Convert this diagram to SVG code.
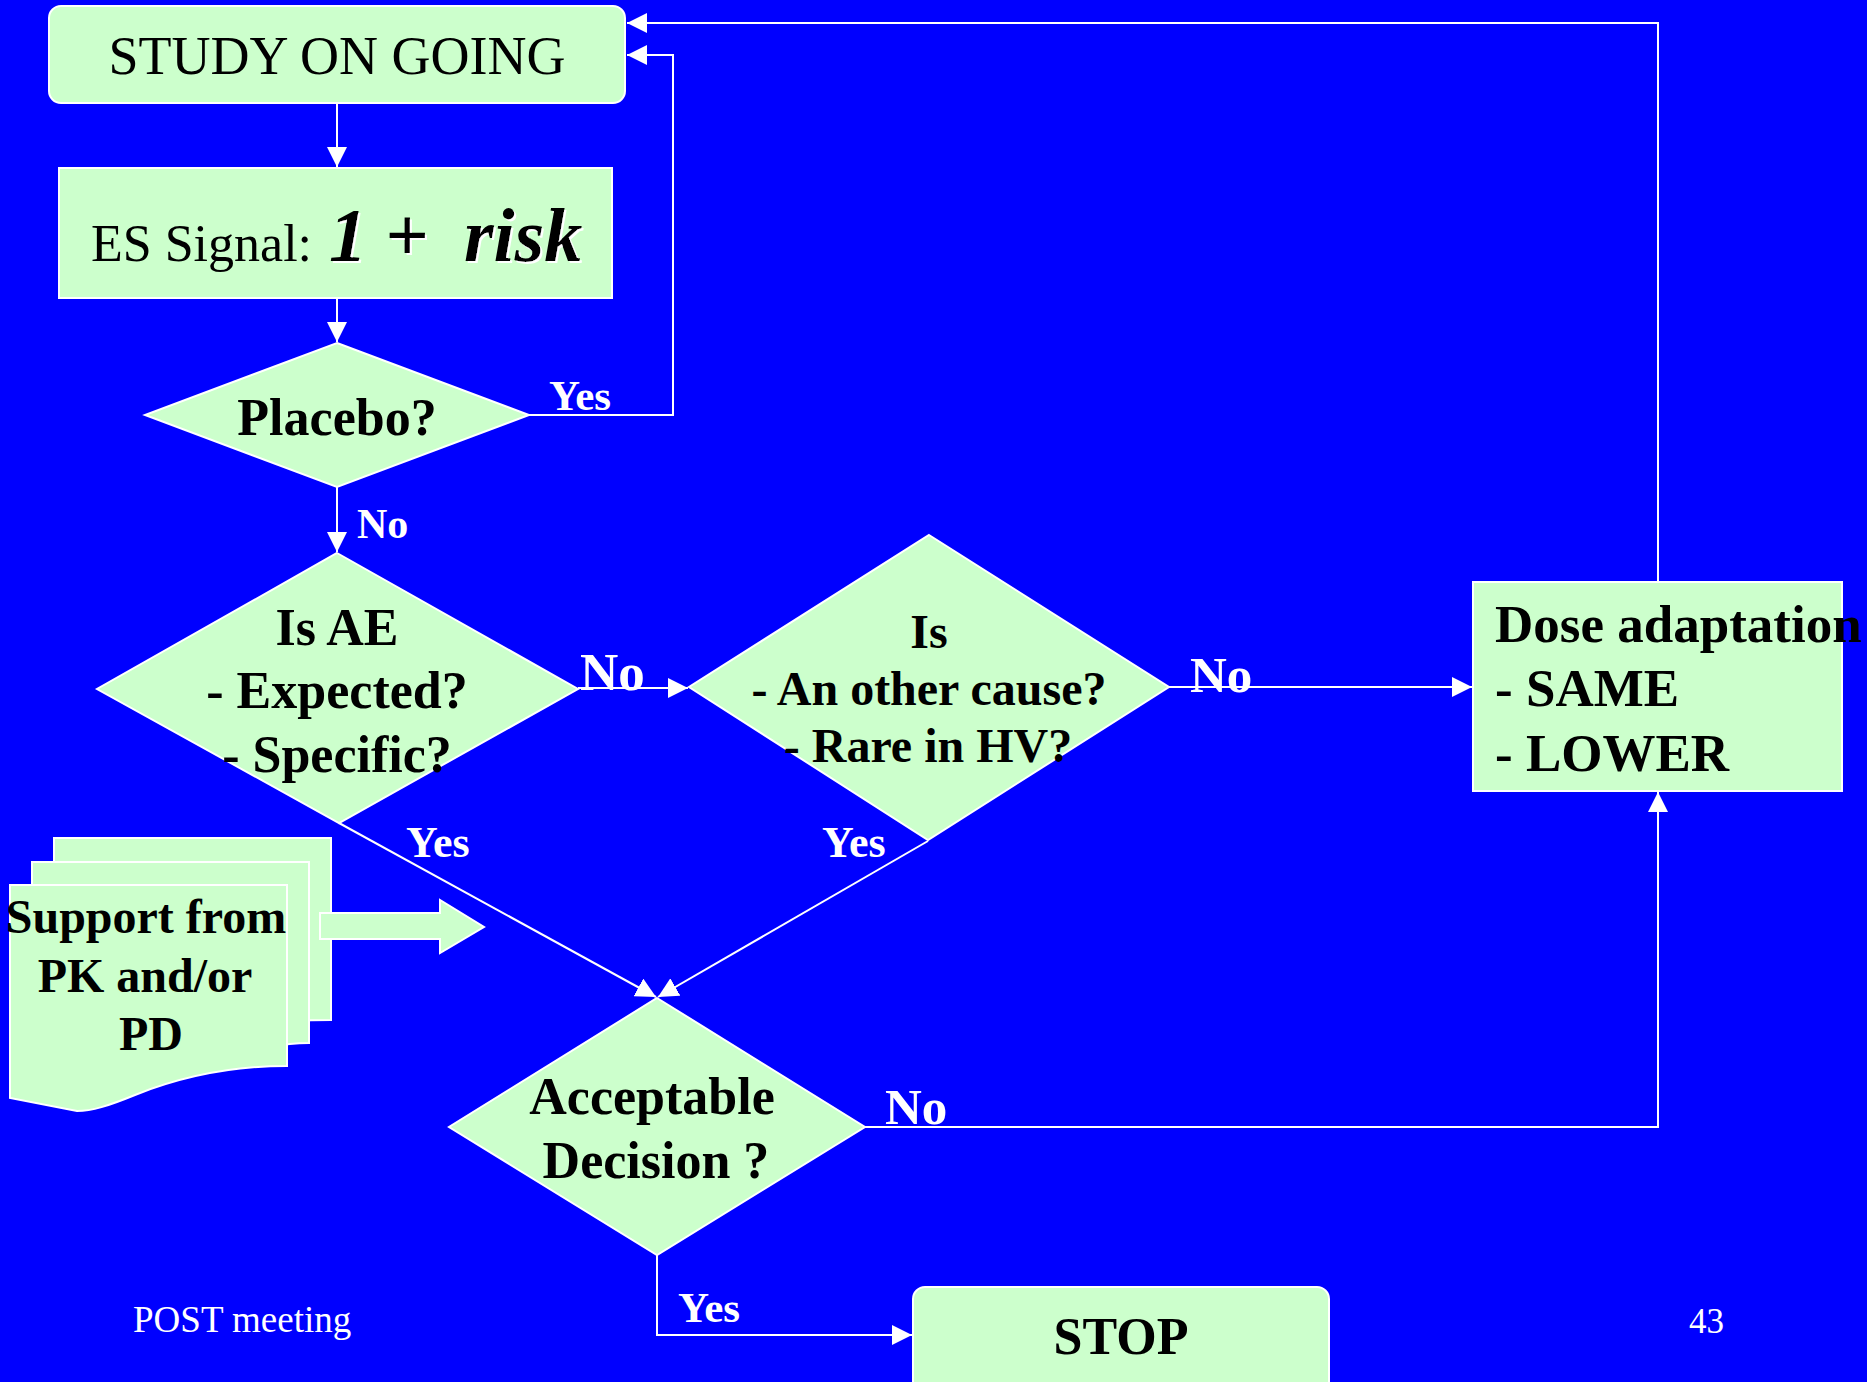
<svg xmlns="http://www.w3.org/2000/svg" width="1867" height="1382" viewBox="0 0 1867 1382">
<defs>
<style>
.node{fill:#CCFFCC;stroke:#FFFFFF;stroke-width:2}
.conn{fill:none;stroke:#FFFFFF;stroke-width:2}
.t{font-family:"Liberation Serif","Times New Roman",serif;fill:#000}
.b{font-weight:bold}
.lbl{font-family:"Liberation Serif","Times New Roman",serif;font-weight:bold;fill:#FFFFFF}
.foot{font-family:"Liberation Serif","Times New Roman",serif;fill:#FFFFFF}
</style>
<marker id="arr" markerWidth="20" markerHeight="20" refX="20" refY="10" orient="auto" markerUnits="userSpaceOnUse">
<path d="M0,0 L20,10 L0,20 Z" fill="#FFFFFF"/>
</marker>
<filter id="wsh" x="-10%" y="-10%" width="130%" height="130%">
<feDropShadow dx="2" dy="2" stdDeviation="0" flood-color="#FFFFFF"/>
</filter>
</defs>
<rect x="0" y="0" width="1867" height="1382" fill="#0000FF"/>

<g id="connectors">
<path class="conn" d="M337,103 V167" marker-end="url(#arr)"/>
<path class="conn" d="M337,298 V342" marker-end="url(#arr)"/>
<path class="conn" d="M529,415 H673 V55 H627" marker-end="url(#arr)"/>
<path class="conn" d="M337,487 V552" marker-end="url(#arr)"/>
<path class="conn" d="M578,688 H688" marker-end="url(#arr)"/>
<path class="conn" d="M1169,687 H1472" marker-end="url(#arr)"/>
<path class="conn" d="M339,823 L656,997" marker-end="url(#arr)"/>
<path class="conn" d="M928,841 L658,997" marker-end="url(#arr)"/>
<path class="conn" d="M865,1127 H1658 V792" marker-end="url(#arr)"/>
<path class="conn" d="M657,1255 V1335 H912" marker-end="url(#arr)"/>
<path class="conn" d="M1658,582 V23 H627" marker-end="url(#arr)"/>
<text class="lbl" x="549" y="410" font-size="43">Yes</text>
<text class="lbl" x="357" y="538" font-size="42">No</text>
<text class="lbl" x="580" y="690" font-size="53">No</text>
<text class="lbl" x="1190" y="692" font-size="51">No</text>
<text class="lbl" x="406" y="857" font-size="44">Yes</text>
<text class="lbl" x="822" y="857" font-size="44">Yes</text>
<text class="lbl" x="885" y="1124" font-size="51">No</text>
<text class="lbl" x="678" y="1322" font-size="43">Yes</text>
</g>

<g id="study">
<rect class="node" x="49" y="6" width="576" height="97" rx="12"/>
<text class="t" x="337" y="74" font-size="54" text-anchor="middle">STUDY ON GOING</text>
</g>

<g id="es-signal">
<rect class="node" x="59" y="168" width="553" height="130"/>
<text class="t" y="261"><tspan x="91" font-size="52">ES Signal: </tspan><tspan x="329" class="b" font-style="italic" font-size="76" filter="url(#wsh)">1</tspan><tspan x="385" class="b" font-size="76" font-style="italic" filter="url(#wsh)">+</tspan><tspan x="464" class="b" font-style="italic" font-size="76" filter="url(#wsh)">risk</tspan></text>
</g>

<g id="placebo">
<polygon class="node" points="337,343 529,415 337,487 145,415"/>
<text class="t b" x="337" y="435" font-size="52" text-anchor="middle">Placebo?</text>
</g>

<g id="is-ae">
<polygon class="node" points="337,553 578,689 339,823 97,689"/>
<text class="t b" font-size="52" text-anchor="middle"><tspan x="337" y="645">Is AE</tspan><tspan x="337" y="708">- Expected?</tspan><tspan x="337" y="772">- Specific?</tspan></text>
</g>

<g id="other-cause">
<polygon class="node" points="929,535 1169,687 928,840 689,687"/>
<text class="t b" font-size="48" text-anchor="middle"><tspan x="929" y="648">Is</tspan><tspan x="929" y="705">- An other cause?</tspan><tspan x="928" y="762">- Rare in HV?</tspan></text>
</g>

<g id="dose">
<rect class="node" x="1473" y="582" width="369" height="209"/>
<text class="t b" font-size="53"><tspan x="1495" y="642">Dose adaptation</tspan><tspan x="1495" y="706">- SAME</tspan><tspan x="1495" y="771">- LOWER</tspan></text>
</g>

<g id="support">
<path class="node" d="M54,838 H331 V1020 C300,1020 280,1022 270,1024 L54,1024 Z"/>
<path class="node" d="M32,862 H309 V1043 C290,1043 280,1045 270,1047 L32,1047 Z"/>
<path class="node" d="M10,885 H287 V1066 C225,1066 175,1079 135,1095 C108,1106 92,1111 77,1111 L10,1098 Z"/>
<text class="t b" font-size="48" text-anchor="middle"><tspan x="146" y="933">Support from</tspan><tspan x="145" y="992">PK and/or</tspan><tspan x="151" y="1050">PD</tspan></text>
<path class="node" d="M320,913 H440 V900 L484,927 L440,953 V939 H320 Z"/>
</g>

<g id="acceptable">
<polygon class="node" points="657,998 865,1127 657,1255 449,1127"/>
<text class="t b" font-size="52" text-anchor="middle"><tspan x="652" y="1114">Acceptable</tspan><tspan x="656" y="1178">Decision ?</tspan></text>
</g>

<g id="stop">
<rect class="node" x="913" y="1287" width="416" height="110" rx="12"/>
<text class="t b" x="1121" y="1354" font-size="52" text-anchor="middle">STOP</text>
</g>

<g id="footer">
<text class="foot" x="133" y="1332" font-size="37">POST meeting</text>
<text class="foot" x="1689" y="1333" font-size="35">43</text>
</g>
</svg>
